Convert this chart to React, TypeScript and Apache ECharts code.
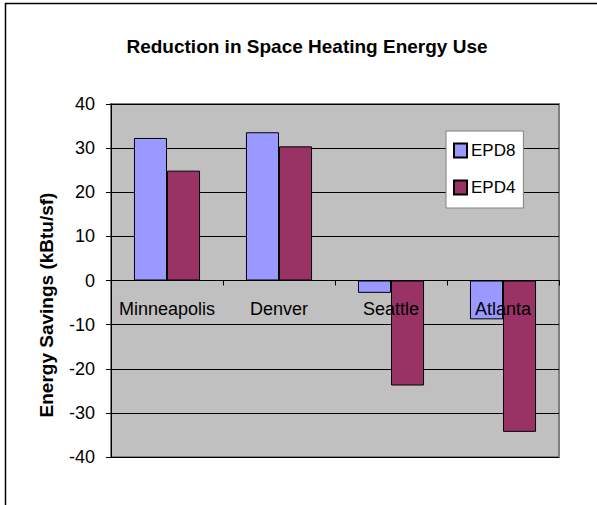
import React, { useEffect, useRef } from "react";
import * as echarts from "echarts";

const categories = ["Minneapolis", "Denver", "Seattle", "Atlanta"];
const epd8 = [32.3, 33.6, -2.8, -8.8];
const epd4 = [24.9, 30.4, -23.8, -34.3];
const seriesNames = ["EPD8", "EPD4"];
const yTicks = { min: -40, max: 40, interval: 10 };
const titleText = "Reduction in Space Heating Energy Use";
const yAxisTitle = "Energy Savings (kBtu/sf)";

const FONT = "'Liberation Sans', Arial, sans-serif";

export default function App() {
  const ref = useRef<HTMLDivElement>(null);
  useEffect(() => {
    if (!ref.current) return;
    const chart = echarts.init(ref.current, undefined, { renderer: "svg" });
    chart.setOption({
      animation: false,
      backgroundColor: "#ffffff",
      textStyle: { fontFamily: FONT },
      title: {
        text: titleText,
        left: 302,
        top: 32,
        textAlign: "center",
        textStyle: { fontFamily: FONT, fontSize: 19, fontWeight: "bold", color: "#000" },
      },
      graphic: [
        {
          type: "rect",
          shape: { x: 5.5, y: 3.5, width: 700, height: 700 },
          style: { fill: "none", stroke: "#000", lineWidth: 1.5 },
          silent: true,
          z: 100,
        },
        {
          type: "rect",
          shape: { x: 111, y: 104, width: 448, height: 353 },
          style: { fill: "none", stroke: "#808080", lineWidth: 2 },
          silent: true,
          z: 0,
        },
        {
          type: "text",
          x: 46,
          y: 305,
          rotation: Math.PI / 2,
          style: {
            text: yAxisTitle,
            fontFamily: FONT,
            fontSize: 19,
            fontWeight: "bold",
            fill: "#000",
            align: "center",
            verticalAlign: "middle",
          },
        },
      ],
      legend: {
        orient: "vertical",
        left: 446,
        top: 131,
        padding: [11, 8, 12, 7],
        itemGap: 20,
        itemWidth: 13,
        itemHeight: 14,
        backgroundColor: "#ffffff",
        borderColor: "#808080",
        borderWidth: 1,
        borderRadius: 0,
        icon: "rect",
        textStyle: { fontFamily: FONT, fontSize: 17, color: "#000", padding: [0, 0, 0, -1] },
        data: seriesNames,
      },
      grid: {
        left: 111,
        top: 104,
        width: 448,
        height: 353,
        show: true,
        backgroundColor: "#C0C0C0",
        borderWidth: 0,
      },
      xAxis: {
        type: "category",
        data: categories,
        z: 10,
        axisLine: { onZero: true, lineStyle: { color: "#000", width: 1 } },
        axisTick: { show: true, alignWithLabel: false, length: 5, inside: false, lineStyle: { color: "#000" } },
        axisLabel: { fontFamily: FONT, fontSize: 18, color: "#000", margin: -157, interval: 0 },
        splitLine: { show: false },
      },
      yAxis: {
        type: "value",
        min: yTicks.min,
        max: yTicks.max,
        interval: yTicks.interval,
        axisLine: { show: true, lineStyle: { color: "#000", width: 1 } },
        axisTick: { show: true, length: 5, lineStyle: { color: "#000" } },
        axisLabel: { fontFamily: FONT, fontSize: 18, color: "#000", margin: 16 },
        splitLine: { show: true, lineStyle: { color: "#000", width: 1 } },
      },
      series: [
        {
          name: seriesNames[0],
          type: "bar",
          data: epd8,
          barGap: "0%",
          barCategoryGap: "41%",
          z: 1,
          itemStyle: { color: "#9999FF", borderColor: "#000", borderWidth: 1 },
        },
        {
          name: seriesNames[1],
          type: "bar",
          data: epd4,
          barGap: "0%",
          barCategoryGap: "41%",
          z: 1,
          itemStyle: { color: "#993366", borderColor: "#000", borderWidth: 1 },
        },
      ],
    });
    return () => chart.dispose();
  }, []);
  return (
    <div
      ref={ref}
      style={{ position: "absolute", left: 0, top: 0, width: 597, height: 505 }}
    />
  );
}
